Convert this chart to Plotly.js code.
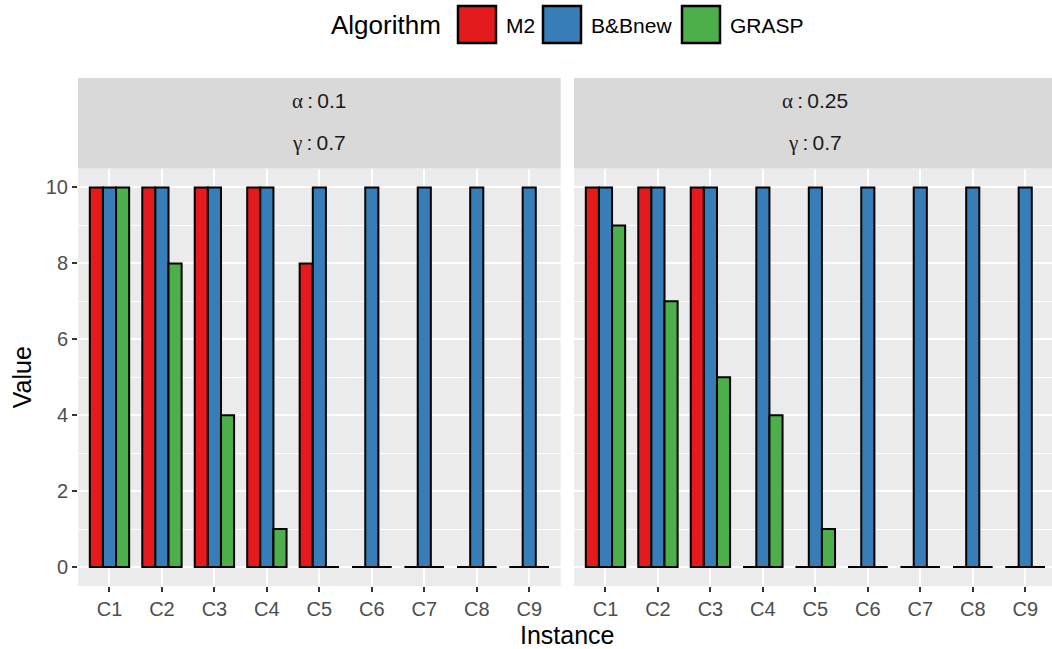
<!DOCTYPE html>
<html>
<head>
<meta charset="utf-8">
<script src="https://cdn.plot.ly/plotly-3.0.1.min.js"></script>
<style>
  html, body { margin: 0; padding: 0; overflow: hidden; background: #fff; }
  #chart { width: 1058px; height: 649px; }
</style>
</head>
<body>
<div id="chart"></div>
<script>
// Instances on the x axis
const instances = ["C1", "C2", "C3", "C4", "C5", "C6", "C7", "C8", "C9"];

// Algorithms and their fill colours
const algorithms = ["M2", "B&Bnew", "GRASP"];
const algoColors = ["#E41A1C", "#377EB8", "#4DAF4A"];

// Facet labels
const facetAlpha = ["0.1", "0.25"];
const facetGamma = ["0.7", "0.7"];

// Values, facet alpha = 0.1
const m2_a01    = [10, 10, 10, 10, 8, 0, 0, 0, 0];
const bbnew_a01 = [10, 10, 10, 10, 10, 10, 10, 10, 10];
const grasp_a01 = [10, 8, 4, 1, 0, 0, 0, 0, 0];

// Values, facet alpha = 0.25
const m2_a025    = [10, 10, 10, 0, 0, 0, 0, 0, 0];
const bbnew_a025 = [10, 10, 10, 10, 10, 10, 10, 10, 10];
const grasp_a025 = [9, 7, 5, 4, 1, 0, 0, 0, 0];

const yTicks = [0, 2, 4, 6, 8, 10];

const facetSeries = [
  [m2_a01, bbnew_a01, grasp_a01],
  [m2_a025, bbnew_a025, grasp_a025]
];

// ---- page geometry (pixels) ----
const W = 1058, H = 649;
const panelX = [[78, 560.7], [574, 1056.7]];
const panelTop = 168.5, panelBottom = 586;
const stripTop = 78;
const px = v => v / W;
const py = v => 1 - v / H;

const BAR_GAP = 0.25;                 // gap between instance groups
const barW = (1 - BAR_GAP) / algorithms.length;
const xPos = instances.map((_, i) => i + 1);

const traces = [];
facetSeries.forEach((series, f) => {
  const xa = f === 0 ? "x" : "x2";
  const ya = f === 0 ? "y" : "y2";
  series.forEach((vals, k) => {
    traces.push({
      type: "bar",
      x: xPos,
      y: vals,
      xaxis: xa, yaxis: ya,
      name: algorithms[k],
      marker: { color: algoColors[k], line: { color: "#000", width: 2 } },
      showlegend: false,
      hoverinfo: "x+y+name"
    });
  });
  // bars with zero height are drawn as their flat outline
  series.forEach((vals, k) => {
    const off = (k - (algorithms.length - 1) / 2) * barW;
    const lx = [], ly = [];
    vals.forEach((v, i) => {
      if (v === 0) {
        lx.push(xPos[i] + off - barW / 2, xPos[i] + off + barW / 2, null);
        ly.push(0, 0, null);
      }
    });
    traces.push({
      type: "scatter", mode: "lines",
      x: lx, y: ly, xaxis: xa, yaxis: ya,
      line: { color: "#000", width: 2 },
      showlegend: false, hoverinfo: "skip", connectgaps: false
    });
  });
});

const tickFont = { family: "Liberation Sans, Arial, sans-serif", size: 20, color: "#4D4D4D" };

function xAxis(f) {
  return {
    domain: [px(panelX[f][0]), px(panelX[f][1])],
    anchor: f === 0 ? "y" : "y2",
    range: [0.4, instances.length + 0.6],
    tickmode: "array", tickvals: xPos, ticktext: instances,
    ticks: "outside", ticklen: 5, tickwidth: 2, tickcolor: "#333333",
    tickfont: tickFont,
    showgrid: true, gridcolor: "#FFFFFF", gridwidth: 2,
    zeroline: false, showline: false, fixedrange: true
  };
}
function yAxis(f) {
  return {
    domain: [py(panelBottom), py(panelTop)],
    anchor: f === 0 ? "x" : "x2",
    range: [-0.5, 10.5],
    tickmode: "array", tickvals: yTicks,
    ticks: f === 0 ? "outside" : "", ticklen: 5, tickwidth: 2, tickcolor: "#333333",
    showticklabels: f === 0,
    tickfont: tickFont,
    showgrid: true, gridcolor: "#FFFFFF", gridwidth: 2,
    minor: { dtick: 1, tick0: 0, showgrid: true, gridcolor: "#FFFFFF", gridwidth: 1, ticks: "" },
    zeroline: false, showline: false, fixedrange: true
  };
}

const shapes = [];
const annotations = [];
const baseFont = "Liberation Sans, Arial, sans-serif";
const greek = ch => '<span style="font-family:Liberation Serif, DejaVu Serif, serif">' + ch + '</span>';

// facet strips
panelX.forEach((p, f) => {
  shapes.push({
    type: "rect", xref: "paper", yref: "paper",
    x0: px(p[0]), x1: px(p[1]), y0: py(panelTop), y1: py(stripTop),
    fillcolor: "#D9D9D9", line: { width: 0 }, layer: "below"
  });
  const cx = px((p[0] + p[1]) / 2);
  annotations.push({
    xref: "paper", yref: "paper", x: cx, y: py(101), xanchor: "center", yanchor: "middle",
    text: greek("\u03B1") + "\u2009:\u2009" + facetAlpha[f], showarrow: false,
    font: { family: baseFont, size: 21, color: "#1A1A1A" }
  });
  annotations.push({
    xref: "paper", yref: "paper", x: cx, y: py(143), xanchor: "center", yanchor: "middle",
    text: greek("\u03B3") + "\u2009:\u2009" + facetGamma[f], showarrow: false,
    font: { family: baseFont, size: 21, color: "#1A1A1A" }
  });
});

// axis titles
annotations.push({
  xref: "paper", yref: "paper", x: px((panelX[0][0] + panelX[1][1]) / 2), y: py(635),
  xanchor: "center", yanchor: "middle", text: "Instance", showarrow: false,
  font: { family: baseFont, size: 25, color: "#000" }
});
annotations.push({
  xref: "paper", yref: "paper", x: px(22), y: py((panelTop + panelBottom) / 2),
  xanchor: "center", yanchor: "middle", text: "Value", textangle: -90, showarrow: false,
  font: { family: baseFont, size: 25, color: "#000" }
});

// legend drawn across the top
const legendKeyX = [458, 543, 682];
const legendKeyW = 38, legendTop = 6, legendBottom = 43, legendMid = 25;
annotations.push({
  xref: "paper", yref: "paper", x: px(329), y: py(legendMid),
  xanchor: "left", yanchor: "middle", text: "Algorithm", showarrow: false,
  font: { family: baseFont, size: 26, color: "#000" }
});
algorithms.forEach((name, k) => {
  const x0 = legendKeyX[k];
  shapes.push({
    type: "rect", xref: "paper", yref: "paper",
    x0: px(x0), x1: px(x0 + legendKeyW), y0: py(legendBottom), y1: py(legendTop),
    fillcolor: algoColors[k], line: { color: "#000", width: 2.5 }
  });
  annotations.push({
    xref: "paper", yref: "paper", x: px(x0 + legendKeyW + 8), y: py(legendMid),
    xanchor: "left", yanchor: "middle", text: name.replace("&", "&amp;"), showarrow: false,
    font: { family: baseFont, size: 21, color: "#000" }
  });
});

const layout = {
  width: W, height: H,
  margin: { l: 0, r: 0, t: 0, b: 0, pad: 0 },
  paper_bgcolor: "#FFFFFF",
  plot_bgcolor: "#EBEBEB",
  barmode: "group", bargap: BAR_GAP, bargroupgap: 0,
  showlegend: false,
  xaxis: xAxis(0), xaxis2: xAxis(1),
  yaxis: yAxis(0), yaxis2: yAxis(1),
  shapes: shapes,
  annotations: annotations,
  font: { family: baseFont }
};

Plotly.newPlot("chart", traces, layout, { displayModeBar: false, staticPlot: true });
</script>
</body>
</html>
